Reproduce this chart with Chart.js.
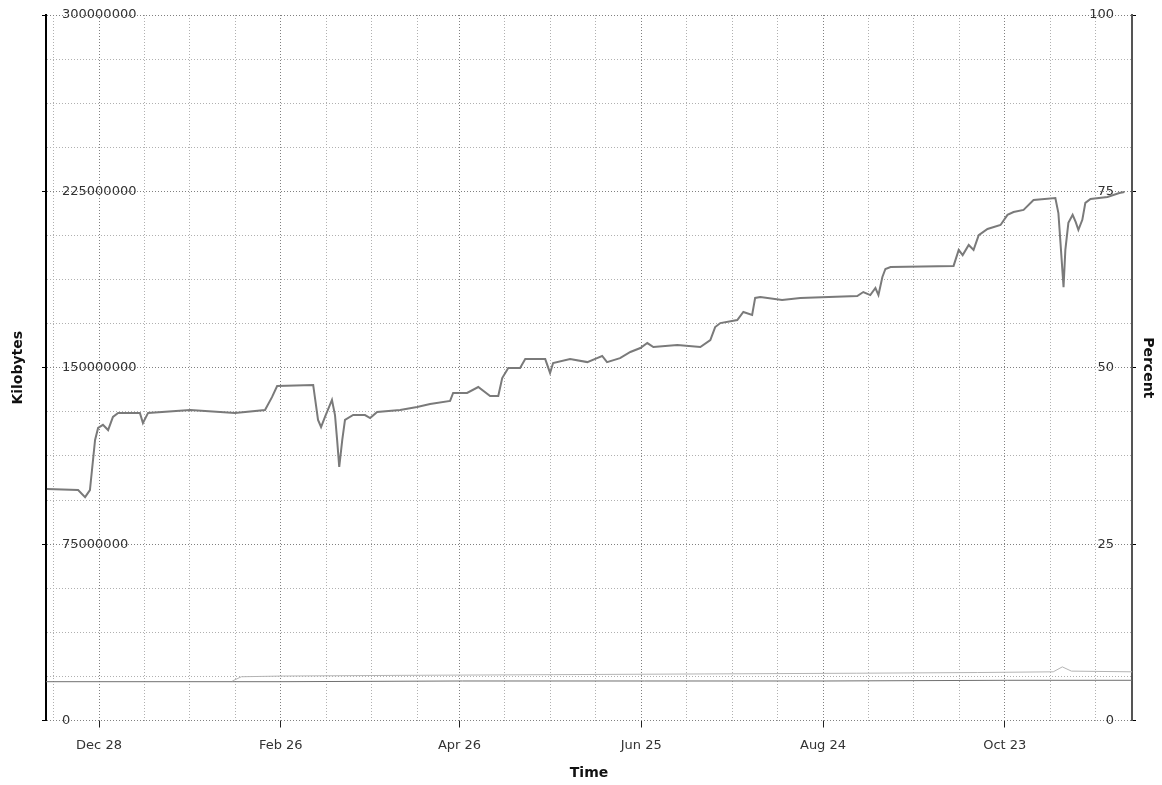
<!DOCTYPE html>
<html>
<head>
<meta charset="utf-8">
<script src="https://cdn.jsdelivr.net/npm/chart.js@4/dist/chart.umd.min.js"></script>
<style>
  html, body { margin: 0; padding: 0; background: #fff; }
  #chart { display: block; }
</style>
</head>
<body>
<canvas id="chart" width="1162" height="785"></canvas>
<script>
// x values are days counted from Dec 28
const tickDays = [0, 60, 119, 179, 239, 299];
const tickLabels = ['Dec 28', 'Feb 26', 'Apr 26', 'Jun 25', 'Aug 24', 'Oct 23'];
const gridDays = [-15, 15, 30, 45, 75, 90, 105, 134, 149, 164, 194, 209, 224, 254, 269, 284, 314, 329];

// Kilobytes series
const mainDays = [-17.2, -6.9, -4.6, -3.0, -1.3, -0.3, 1.3, 3.0, 4.6, 6.3, 13.5, 14.5, 16.2, 30.1, 44.9,
  54.8, 57.1, 58.8, 70.7, 72.3, 73.3, 74.6, 76.9, 77.9, 78.6, 79.3, 80.3, 81.2, 83.9, 87.8, 89.5, 91.8,
  99.4, 105.0, 109.3, 115.9, 116.9, 121.5, 125.2, 129.1, 131.8, 133.1, 135.1, 139.0, 140.7, 147.3, 148.9,
  149.9, 155.5, 161.2, 164.4, 166.1, 167.7, 172.0, 175.4, 178.7, 181.0, 183.0, 190.9, 198.5, 201.8, 203.4,
  205.1, 210.7, 212.7, 215.6, 216.6, 218.3, 225.5, 231.5, 250.3, 252.3, 254.6, 256.3, 257.3, 258.6, 259.6,
  261.3, 282.1, 283.8, 285.1, 287.1, 288.7, 290.4, 293.3, 297.6, 299.9, 301.9, 305.2, 308.5, 315.7, 316.7,
  317.4, 318.4, 319.0, 320.0, 321.4, 322.4, 323.3, 324.6, 325.6, 327.3, 332.9, 336.8, 338.5];
const mainKB = [98.4, 98.0, 95.0, 98.0, 119.3, 124.4, 125.7, 123.5, 129.1, 130.8, 130.8, 126.5, 130.8, 132.0, 130.8,
  132.0, 137.5, 142.2, 142.7, 127.8, 124.8, 129.1, 136.3, 129.9, 119.3, 107.8, 119.3, 127.8, 129.9, 129.9, 128.6, 131.2,
  132.0, 133.3, 134.6, 135.9, 139.3, 139.3, 141.8, 138.0, 138.0, 145.6, 149.9, 149.9, 153.7, 153.7, 147.8,
  152.0, 153.7, 152.4, 154.1, 155.0, 152.4, 154.1, 156.7, 158.4, 160.5, 158.8, 159.7, 158.8, 161.8, 167.3,
  169.0, 170.3, 173.7, 172.5, 179.7, 180.1, 178.8, 179.7, 180.5, 182.2, 180.9, 183.9, 180.9, 188.6, 192.0,
  192.8, 193.3, 200.1, 197.9, 202.2, 200.1, 206.4, 209.0, 210.7, 215.0, 216.2, 217.1, 221.3, 222.2, 215.8,
  203.0, 184.3, 200.1, 211.6, 215.0, 212.0, 208.6, 212.9, 220.1, 221.8, 222.6, 224.3, 224.7].map(v => v * 1000000);

// Percent series
const upperDays = [44, 47, 60, 100, 150, 200, 250, 290, 315, 318, 321, 341];
const upperPct = [5.6, 6.2, 6.3, 6.4, 6.5, 6.6, 6.7, 6.8, 6.9, 7.6, 7.0, 6.9];
const lowerDays = [-17.5, 60, 120, 180, 240, 300, 341];
const lowerPct = [5.5, 5.5, 5.6, 5.6, 5.6, 5.7, 5.7];

const allTicks = tickDays.concat(gridDays).sort((a, b) => a - b);
const tickFont = { family: 'DejaVu Sans', size: 13 };
const titleFont = { family: 'DejaVu Sans', size: 14, weight: 'bold' };

function pts(xs, ys) {
    return xs.map((x, i) => ({ x: x, y: ys[i] }));
}

// fixed axis sizes so the plot area lands where the original one is
function fixSize(w, h) {
    return s => {
        if (w) s.width = w;
        if (h) s.height = h;
        s.paddingTop = 0;
        s.paddingBottom = 0;
        s.paddingLeft = 0;
        s.paddingRight = 0;
    };
}

new Chart(document.getElementById('chart'), {
    type: 'line',
    data: {
        datasets: [
            { label: 'Kilobytes', data: pts(mainDays, mainKB), yAxisID: 'y',
              borderColor: '#7a7a7a', borderWidth: 2, pointRadius: 0, tension: 0 },
            { label: 'Percent A', data: pts(upperDays, upperPct), yAxisID: 'y2',
              borderColor: '#b4b4b4', borderWidth: 1, pointRadius: 0, tension: 0 },
            { label: 'Percent B', data: pts(lowerDays, lowerPct), yAxisID: 'y2',
              borderColor: '#707070', borderWidth: 1, pointRadius: 0, tension: 0 }
        ]
    },
    options: {
        responsive: false,
        animation: false,
        devicePixelRatio: 1,
        layout: { padding: { top: 15, left: 0, right: 0, bottom: 0 } },
        plugins: { legend: { display: false }, tooltip: { enabled: false } },
        scales: {
            x: {
                type: 'linear',
                min: -17.5,
                max: 341,
                afterBuildTicks: axis => { axis.ticks = allTicks.map(v => ({ value: v })); },
                afterFit: fixSize(0, 64.5),
                ticks: {
                    autoSkip: false, maxRotation: 0, padding: 10, color: '#333', font: tickFont,
                    callback: v => {
                        const i = tickDays.indexOf(v);
                        return i >= 0 ? tickLabels[i] : '';
                    }
                },
                grid: {
                    color: c => tickDays.includes(c.tick.value) ? '#808080' : '#b0b0b0',
                    tickColor: c => tickDays.includes(c.tick.value) ? '#222' : 'transparent',
                    tickLength: 7
                },
                border: { display: false, dash: [1, 2] },
                title: { display: true, text: 'Time', color: '#111', font: titleFont, padding: { top: 0, bottom: 3.6 } }
            },
            y: {
                position: 'left',
                min: 0,
                max: 300000000,
                afterFit: fixSize(46, 0),
                ticks: {
                    stepSize: 18750000, mirror: true, padding: 16, color: '#333', font: tickFont,
                    callback: v => (v % 75000000 === 0 ? String(v) : '')
                },
                grid: {
                    color: c => (c.tick.value % 75000000 === 0 ? '#808080' : '#b0b0b0'),
                    tickColor: c => (c.tick.value % 75000000 === 0 ? '#000' : 'transparent'),
                    tickLength: 4
                },
                border: { display: true, color: '#000', width: 2, dash: [1, 2] },
                title: { display: true, text: 'Kilobytes', color: '#111', font: titleFont, padding: { top: 9.6, bottom: 0 } }
            },
            y2: {
                position: 'right',
                min: 0,
                max: 100,
                afterFit: fixSize(30, 0),
                // mirrored labels on a right axis are placed at left + padding
                ticks: { stepSize: 25, mirror: true, padding: -18, color: '#333', font: tickFont },
                grid: { drawOnChartArea: false, tickColor: '#000', tickLength: 4 },
                border: { display: true, color: '#555', width: 2 },
                title: { display: true, text: 'Percent', color: '#111', font: titleFont, padding: { top: 5.6, bottom: 0 } }
            }
        }
    }
});
</script>
</body>
</html>
